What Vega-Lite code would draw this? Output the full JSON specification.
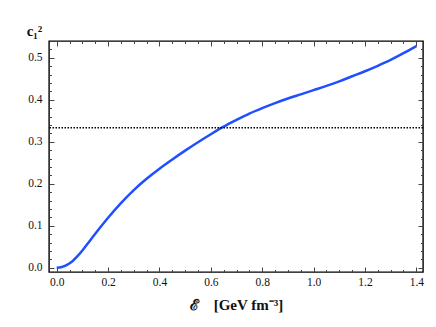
{
  "$schema": "https://vega.github.io/schema/vega-lite/v6.json",
  "width": 374,
  "height": 231,
  "autosize": {"type": "none"},
  "padding": {"left": 49, "top": 41, "right": 13, "bottom": 55},
  "config": {
    "view": {"stroke": "black", "strokeWidth": 1.4},
    "font": "Liberation Serif",
    "axis": {"grid": false, "domain": false, "tickColor": "#444", "tickWidth": 1, "labelFont": "Liberation Serif", "labelFontSize": 11.5, "labelColor": "#111", "titleFont": "Liberation Serif", "titleColor": "#111"}
  },
  "data": {"values": [
    {"e": 0.0, "c": 0.0},
    {"e": 0.02, "c": 0.002},
    {"e": 0.04, "c": 0.007},
    {"e": 0.06, "c": 0.015},
    {"e": 0.08, "c": 0.027},
    {"e": 0.1, "c": 0.041},
    {"e": 0.12, "c": 0.057},
    {"e": 0.15, "c": 0.081},
    {"e": 0.2, "c": 0.119},
    {"e": 0.25, "c": 0.154},
    {"e": 0.3, "c": 0.185},
    {"e": 0.35, "c": 0.212},
    {"e": 0.4, "c": 0.236},
    {"e": 0.45, "c": 0.258},
    {"e": 0.5, "c": 0.279},
    {"e": 0.55, "c": 0.299},
    {"e": 0.6, "c": 0.318},
    {"e": 0.65, "c": 0.336},
    {"e": 0.7, "c": 0.352},
    {"e": 0.75, "c": 0.367},
    {"e": 0.8, "c": 0.38},
    {"e": 0.85, "c": 0.392},
    {"e": 0.9, "c": 0.403},
    {"e": 0.95, "c": 0.413},
    {"e": 1.0, "c": 0.423},
    {"e": 1.05, "c": 0.433},
    {"e": 1.1, "c": 0.444},
    {"e": 1.15, "c": 0.456},
    {"e": 1.2, "c": 0.468},
    {"e": 1.25, "c": 0.481},
    {"e": 1.3, "c": 0.495},
    {"e": 1.35, "c": 0.511},
    {"e": 1.4, "c": 0.528}
  ]},
  "layer": [
    {
      "mark": {"type": "line", "color": "#1f4fff", "strokeWidth": 2.5, "interpolate": "monotone"},
      "encoding": {
        "x": {"field": "e", "type": "quantitative",
          "scale": {"domain": [-0.03, 1.426], "nice": false, "zero": false},
          "axis": {"orient": "bottom", "title": "ℰ\u2003[GeV fm⁻³]", "titleFontSize": 15, "titleFontWeight": "bold", "titlePadding": 10,
            "values": [0, 0.05, 0.1, 0.15, 0.2, 0.25, 0.3, 0.35, 0.4, 0.45, 0.5, 0.55, 0.6, 0.65, 0.7, 0.75, 0.8, 0.85, 0.9, 0.95, 1.0, 1.05, 1.1, 1.15, 1.2, 1.25, 1.3, 1.35, 1.4],
            "labelExpr": "round(datum.value*100) % 20 == 0 ? format(datum.value, '.1f') : ''",
            "tickSize": {"condition": {"test": "round(datum.value*100) % 20 == 0", "value": -5}, "value": -2.5},
            "labelPadding": 9}},
        "y": {"field": "c", "type": "quantitative",
          "scale": {"domain": [-0.01, 0.54], "nice": false, "zero": false},
          "axis": {"orient": "left", "title": "c₁²", "titleAngle": 0, "titleFontSize": 15, "titleFontWeight": "bold", "titleX": -15, "titleY": -3, "titleAlign": "center", "titleBaseline": "bottom",
            "values": [0, 0.02, 0.04, 0.06, 0.08, 0.1, 0.12, 0.14, 0.16, 0.18, 0.2, 0.22, 0.24, 0.26, 0.28, 0.3, 0.32, 0.34, 0.36, 0.38, 0.4, 0.42, 0.44, 0.46, 0.48, 0.5, 0.52],
            "labelExpr": "round(datum.value*100) % 10 == 0 ? format(datum.value, '.1f') : ''",
            "tickSize": {"condition": {"test": "round(datum.value*100) % 10 == 0", "value": -5}, "value": -2.5},
            "labelPadding": 12}}
      }
    },
    {
      "data": {"values": [{"y": 0.3333}]},
      "mark": {"type": "rule", "color": "black", "strokeWidth": 1.5, "strokeDash": [1.5, 1.5]},
      "encoding": {"y": {"field": "y", "type": "quantitative", "axis": null}}
    },
    {
      "mark": {"type": "line", "opacity": 0},
      "encoding": {
        "x": {"field": "e", "type": "quantitative",
          "axis": {"orient": "top", "title": null, "labels": false,
            "values": [0, 0.05, 0.1, 0.15, 0.2, 0.25, 0.3, 0.35, 0.4, 0.45, 0.5, 0.55, 0.6, 0.65, 0.7, 0.75, 0.8, 0.85, 0.9, 0.95, 1.0, 1.05, 1.1, 1.15, 1.2, 1.25, 1.3, 1.35, 1.4],
            "tickSize": {"condition": {"test": "round(datum.value*100) % 20 == 0", "value": -5}, "value": -2.5}}},
        "y": {"field": "c", "type": "quantitative",
          "axis": {"orient": "right", "title": null, "labels": false,
            "values": [0, 0.02, 0.04, 0.06, 0.08, 0.1, 0.12, 0.14, 0.16, 0.18, 0.2, 0.22, 0.24, 0.26, 0.28, 0.3, 0.32, 0.34, 0.36, 0.38, 0.4, 0.42, 0.44, 0.46, 0.48, 0.5, 0.52],
            "tickSize": {"condition": {"test": "round(datum.value*100) % 10 == 0", "value": -5}, "value": -2.5}}}
      }
    }
  ],
  "resolve": {"axis": {"x": "independent", "y": "independent"}}
}
